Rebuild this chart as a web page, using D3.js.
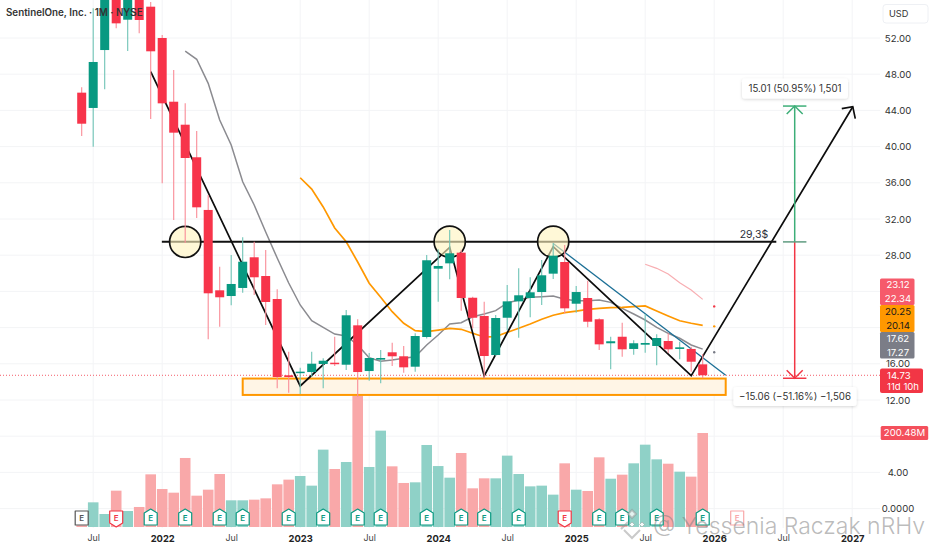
<!DOCTYPE html>
<html><head><meta charset="utf-8">
<style>
html,body{margin:0;padding:0;background:#fff;overflow:hidden}
svg{display:block;font-family:Inter,"Noto Sans",sans-serif}
</style>
<script src="https://cdn.jsdelivr.net/npm/d3@7"></script>
</head><body><svg id="c" width="932" height="550"></svg>
<script>
// Monthly bars, Jun 2021 (index 0) .. Dec 2025 (index 54)
const opens=[45.96,44.27,50.67,60,54.02,58,55.46,52,44.96,42.42,38.82,33,24.12,23.49,24.38,27.77,25.7,23.16,14.73,14.99,15.09,15.98,16.12,15.9,20.25,15.2,16.46,17.27,16.83,15.68,18.96,26.51,27.1,28.28,23.3,21.28,16.97,21.09,22.9,23.27,23.93,25.96,27.25,22.64,23.27,20.92,18.27,18.99,17.64,18.11,17.97,18.52,17.64,17.64,15.94];
const highs=[46.55,55.3,62,64,62,62,55.98,52.33,48.46,44.78,41.72,34.65,26.73,28.02,29.98,29.49,28.57,24.23,17.34,15.57,17.34,16.6,18.99,21.94,20.92,17.19,17.52,18.33,17.97,19.37,28.02,28.65,30.78,28.6,23.4,22.86,21.39,24.71,26.55,25.56,27.47,29.35,29.13,24.6,25.18,21.03,18.99,20.54,18.6,21.47,19.26,19.37,18.44,17.89,17.08];
const lows=[41.17,39.99,46.33,53.07,50.56,52.52,43.05,35.95,31.89,29.35,32.11,18.71,20.1,22.46,23.86,23.6,20.29,13.29,12.8,12.66,14.58,13.29,15.76,15.31,12.36,14.13,13.84,15.76,15.02,15.13,18.8,22.86,25.34,21.87,19.93,14.4,16.9,19.73,18.88,21.14,22.5,25.37,21.58,21.65,20.03,17.52,15.39,16.78,17,17.23,15.83,17.19,16.5,15.13,14.4];
const closes=[42.53,49.35,58,53.62,58,53.99,50.53,44.78,41.54,38.74,33.29,23.79,23.35,24.82,27.28,25.56,22.83,14.54,14.54,15.13,16.01,16.34,16.01,21.36,15.09,16.64,16.64,16.83,15.61,19.07,27.44,26.81,28.21,23.27,21.09,16.86,21.06,22.9,23.57,23.9,25.78,27.95,22.13,23.93,20.65,18.15,18.49,17.6,18.27,18.3,18.85,17.6,17.82,16.23,14.73];
const volumes=[3.5,52.6,27.7,77.5,34.1,42.7,112.3,81,73.2,147.2,66.8,79.6,113,56.9,56.9,58.3,61.1,91,101,108.8,88.2,165,123.7,138.6,280,128,205.5,129.4,93.9,95.3,174.9,130,105.2,157.8,82.5,103.8,103.8,152.2,113,86.7,88.2,69,135.8,79.6,76.8,148.6,103,111.6,135.8,175.6,144.3,135,118,107.4,200.48];
// Moving averages: first month index + values
const grayStart=9;
const grayMA=[50.56,49.65,46.99,42.94,40.18,36.12,33.55,30.56,27.69,24.93,22.5,20.76,20.03,19.29,19.07,18.08,16.67,16.28,16.42,16.61,16.78,18.08,19.18,20.4,20.54,21.2,21.5,21.87,22.72,23.05,23.35,23.41,23.49,23.13,22.97,22.97,23.05,22.79,22.13,21.5,20.84,20.03,19.37,18.82,18.08,17.62];
const orangeStart=19;
const orangeMA=[36.56,35.31,33.33,31.01,29.49,27.25,24.9,23.35,21.76,20.48,19.66,19.55,19.73,19.92,19.81,19.37,18.96,19,19.48,19.92,20.4,20.92,21.36,21.65,21.83,22.02,22.13,22.2,22.24,22.31,22.39,21.83,21.28,20.76,20.48,20.25];
const pinkStart=49;
const pinkMA=[27,26.55,25.92,24.96,24.15,23.12];
const projection=[{m:55,v:22.34,k:"red"},{m:55,v:20.14,k:"orange"},{m:55,v:17.27,k:"gray"}];
// Price axis
const priceTicks=[52,48,44,40,36,32,28,16,12,4,0];
const priceGrid=[52,48,44,40,36,32,28,24,20,16,12,8,4,0];
const lastPrice=14.73;
// Time axis
const timeTicks=[1,7,13,19,25,31,37,43,49,55,61,67];
const timeLabels=["Jul","2022","Jul","2023","Jul","2024","Jul","2025","Jul","2026","Jul","2027"];
const yearLabels=["2022","2023","2024","2025","2026","2027"];
// Earnings markers
const earningsNeutral=[0];
const earningsMiss=[3,42];
const earningsBeat=[6,9,12,14,18,21,24,26,30,33,35,38,45,47,50,54];
const earningsFuture=[57];
// Drawings
const zigzag=[[6,48.28],[19,13.55],[32,28.87],[35,14.65],[41,28.94],[53,14.7],[67.05,44.41]];
const resistance={from:6.97,to:60.4,price:29.49,label:"29,3$"};
const touches=[[9,29.47],[32,29.49],[41,29.49]];
const zone={from:14,to:56,top:14.37,bottom:12.56};
const trend=[[41,29.3],[56,14.73]];
const measure={m:62,base:29.47,up:44.48,down:14.4,upText:"15.01 (50.95%) 1,501",downText:"\u221215.06 (\u221251.16%) \u22121,506"};
const axisTags=[["23.12",284.7],["22.34",298.7],["20.25",311.7],["20.14",325.3],["17.62",339],["17.27",352.3]];

const svg=d3.select("#c");
const x=d3.scaleLinear().domain([0,54]).range([81.7,702.7]);
const y=d3.scaleLinear().domain([12,52]).range([400,38]);
const yv=d3.scaleLinear().domain([0,200.48]).range([527,433]);
const RED="#F7344A",GREEN="#089981",ORANGE="#FF9800",GRAY="#8b8b90";
const idx=d3.range(opens.length);

// grid
const grid=svg.append("g").attr("stroke","#f3f4f6").attr("stroke-width",1);
grid.selectAll(".h").data(priceGrid).join("line").attr("x1",0).attr("x2",880).attr("y1",d=>y(d)).attr("y2",d=>y(d));
grid.selectAll(".v").data(timeTicks).join("line").attr("y1",0).attr("y2",528).attr("x1",d=>x(d)).attr("x2",d=>x(d));

// volume
svg.append("g").selectAll("rect").data(idx).join("rect")
 .attr("x",i=>x(i)-5.3).attr("width",10.6)
 .attr("y",i=>yv(volumes[i])).attr("height",i=>yv(0)-yv(volumes[i]))
 .attr("fill",i=>closes[i]>=opens[i]?"#8FD1C7":"#F9A8A9");

// zone
svg.append("rect").attr("x",x(zone.from)).attr("width",x(zone.to)-x(zone.from))
 .attr("y",y(zone.top)).attr("height",y(zone.bottom)-y(zone.top))
 .attr("fill","#FFF5E6").attr("stroke",ORANGE).attr("stroke-width",2);

// last price line
svg.append("line").attr("x1",0).attr("x2",880).attr("y1",y(lastPrice)).attr("y2",y(lastPrice))
 .attr("stroke","#F23645").attr("stroke-width",1).attr("stroke-dasharray","1 2").attr("opacity",.8);

// moving averages
const ml=(start)=>d3.line().x((d,i)=>x(i+start)).y(d=>y(d));
svg.append("path").attr("d",ml(pinkStart)(pinkMA)).attr("fill","none").attr("stroke","#F8AEB2").attr("stroke-width",1.2);
svg.append("path").attr("d",ml(grayStart)(grayMA)).attr("fill","none").attr("stroke",GRAY).attr("stroke-width",1.5);
svg.append("path").attr("d",ml(orangeStart)(orangeMA)).attr("fill","none").attr("stroke",ORANGE).attr("stroke-width",1.7);
svg.append("g").selectAll("circle").data(projection).join("circle")
 .attr("cx",d=>x(d.m)).attr("cy",d=>y(d.v)).attr("r",1.2)
 .attr("fill",d=>d.k=="red"?"#F23645":d.k=="orange"?ORANGE:"#787B86");

// drawings under candles
const ln=d3.line().x(d=>x(d[0])).y(d=>y(d[1]));
svg.append("path").attr("d",ln(trend)).attr("fill","none").attr("stroke","#1B6F96").attr("stroke-width",1.3);
svg.append("path").attr("d",ln(zigzag)).attr("fill","none").attr("stroke","#0d0d0d").attr("stroke-width",1.7);
svg.append("line").attr("x1",x(resistance.from)).attr("x2",x(resistance.to)).attr("y1",y(resistance.price)).attr("y2",y(resistance.price))
 .attr("stroke","#111").attr("stroke-width",2);
svg.append("g").selectAll("circle").data(touches).join("circle")
 .attr("cx",d=>x(d[0])).attr("cy",d=>y(d[1])).attr("r",15.6)
 .attr("fill","rgba(255,243,190,.62)").attr("stroke","#111").attr("stroke-width",1.7);
// arrow head
const tip=zigzag[zigzag.length-1];
const tx=x(tip[0]),ty=y(tip[1]);
svg.append("path").attr("d",`M${tx-11},${ty+2}L${tx},${ty}L${tx+2.5},${ty+12}`).attr("fill","none").attr("stroke","#0d0d0d").attr("stroke-width",1.7);

// candles
const cg=svg.append("g");
cg.selectAll("line").data(idx).join("line")
 .attr("x1",i=>x(i)).attr("x2",i=>x(i)).attr("y1",i=>y(highs[i])).attr("y2",i=>y(lows[i]))
 .attr("stroke",i=>closes[i]>=opens[i]?"#6FC4B6":"#F98C97").attr("stroke-width",1.1);
cg.selectAll("rect").data(idx).join("rect")
 .attr("x",i=>x(i)-4.5).attr("width",9)
 .attr("y",i=>y(Math.max(opens[i],closes[i])))
 .attr("height",i=>Math.max(1.5,Math.abs(y(opens[i])-y(closes[i]))))
 .attr("fill",i=>closes[i]>=opens[i]?GREEN:RED);

// measuring tool
const mx=x(measure.m);
function cap(p,color,dir){
  svg.append("line").attr("x1",mx-11.7).attr("x2",mx+11.7).attr("y1",y(p)).attr("y2",y(p)).attr("stroke",color).attr("stroke-width",1.5);
}
const G="#3DAE78",R="#F23645";
svg.append("line").attr("x1",mx).attr("x2",mx).attr("y1",y(measure.base)).attr("y2",y(measure.down)).attr("stroke",R).attr("stroke-width",1.5);
svg.append("line").attr("x1",mx).attr("x2",mx).attr("y1",y(measure.base)).attr("y2",y(measure.up)).attr("stroke",G).attr("stroke-width",1.5);
cap(measure.up,G);cap(measure.base,"#5f9c80");cap(measure.down,R);
svg.append("path").attr("d",`M${mx-8},${y(measure.up)+8}L${mx},${y(measure.up)}L${mx+8},${y(measure.up)+8}`).attr("fill","none").attr("stroke",G).attr("stroke-width",1.5);
svg.append("path").attr("d",`M${mx-8},${y(measure.down)-8}L${mx},${y(measure.down)}L${mx+8},${y(measure.down)-8}`).attr("fill","none").attr("stroke",R).attr("stroke-width",1.5);
const defs=svg.append("defs");
const fl=defs.append("filter").attr("id","sh").attr("x","-20%").attr("y","-40%").attr("width","140%").attr("height","200%");
fl.append("feDropShadow").attr("dx",0).attr("dy",1).attr("stdDeviation",1.6).attr("flood-color","#000").attr("flood-opacity",.16);
function tag(x0,y0,w,h,t){
  svg.append("rect").attr("x",x0).attr("y",y0).attr("width",w).attr("height",h).attr("rx",3).attr("fill","#fff").attr("filter","url(#sh)");
  svg.append("text").attr("x",x0+w/2).attr("y",y0+h/2).attr("dy",".35em").attr("text-anchor","middle").attr("font-size",9.7).attr("fill","#333").text(t);
}
tag(742,78.5,106,20,measure.upText);
tag(733.5,387,123,19,measure.downText);
svg.append("text").attr("x",x(resistance.to)-8).attr("y",y(resistance.price)-4).attr("text-anchor","end").attr("font-size",10.5).attr("fill","#2a2e39").text(resistance.label);

// earnings
const eg=svg.append("g");
function ebadge(i,kind){
  const cx=x(i),color=kind=="beat"?"#089981":kind=="miss"?"#F23645":kind=="future"?"#F9A8A9":"#555";
  let d;
  if(kind=="beat") d=`M${cx-6.5},${513}L${cx},${509}L${cx+6.5},${513}L${cx+6.5},${525}L${cx-6.5},${525}Z`;
  else if(kind=="miss") d=`M${cx-6.5},${511}L${cx+6.5},${511}L${cx+6.5},${523}L${cx},${527}L${cx-6.5},${523}Z`;
  else d=`M${cx-6.5},${511}L${cx+6.5},${511}L${cx+6.5},${525}L${cx-6.5},${525}Z`;
  eg.append("path").attr("d",d).attr("fill","#fff").attr("stroke",color).attr("stroke-width",1.2).attr("stroke-linejoin","round");
  eg.append("text").attr("x",cx).attr("y",518).attr("dy",".36em").attr("text-anchor","middle").attr("font-size",8).attr("font-weight",600).attr("fill",color).text("E");
}
earningsNeutral.forEach(i=>ebadge(i,"neutral"));
earningsMiss.forEach(i=>ebadge(i,"miss"));
earningsBeat.forEach(i=>ebadge(i,"beat"));
earningsFuture.forEach(i=>ebadge(i,"future"));

// title
svg.append("text").attr("x",6).attr("y",13).attr("dy",".35em").attr("font-size",9.8).attr("font-weight",600).attr("fill","#333").text("SentinelOne, Inc. \u00b7 1M \u00b7 NYSE");

// price axis area
svg.append("rect").attr("x",880).attr("y",0).attr("width",52).attr("height",550).attr("fill","#fff");
const ya=d3.axisRight(y).tickValues(priceTicks).tickSize(0).tickFormat(d=>d===0?"0.0000":d3.format(".2f")(d));
const yg=svg.append("g").attr("transform","translate(898,0)").call(ya);
yg.select(".domain").remove();
yg.selectAll("text").attr("x",0).attr("text-anchor","middle").attr("font-family","Inter,sans-serif").attr("font-size",9.6).attr("fill","#333");
// USD box
svg.append("rect").attr("x",883).attr("y",4.5).attr("width",45).attr("height",18.5).attr("rx",3).attr("fill","#fff").attr("stroke","#eef0f4");
svg.append("text").attr("x",889).attr("y",14).attr("dy",".35em").attr("font-size",9.2).attr("fill","#333").text("USD");
// tags
const blocks=[[278.5,305,"#F65A6B"],[305,332,ORANGE],[332,358.5,"#7B7D87"]];
svg.append("g").selectAll("rect").data(blocks).join("rect").attr("x",880).attr("width",34.5).attr("y",d=>d[0]).attr("height",d=>d[1]-d[0]).attr("rx",1.5).attr("fill",d=>d[2]);
svg.append("g").selectAll("text").data(axisTags).join("text").attr("x",898).attr("y",d=>d[1]).attr("dy",".35em").attr("text-anchor","middle").attr("font-size",9.6)
 .attr("fill",(d,i)=>i==2||i==3?"#1a1a1a":"#fff").text(d=>d[0]);
svg.append("rect").attr("x",880).attr("y",368.5).attr("width",43).attr("height",24.5).attr("rx",2).attr("fill","#F23645");
svg.append("text").attr("x",887).attr("y",375.7).attr("dy",".35em").attr("font-size",9.6).attr("fill","#fff").text(d3.format(".2f")(lastPrice));
svg.append("text").attr("x",887).attr("y",386.7).attr("dy",".35em").attr("font-size",9.6).attr("fill","#fff").text("11d 10h");
svg.append("rect").attr("x",880.7).attr("y",426).attr("width",47.5).attr("height",14).attr("rx",1.5).attr("fill","#F4505C");
svg.append("text").attr("x",904.5).attr("y",433).attr("dy",".35em").attr("text-anchor","middle").attr("font-size",9.6).attr("fill","#fff").text("200.48M");

// time axis
const xa=d3.axisBottom(x).tickValues(timeTicks).tickSize(0).tickFormat((d,i)=>timeLabels[i]);
const xg=svg.append("g").attr("transform","translate(0,535)").call(xa);
xg.select(".domain").remove();
xg.selectAll("text").attr("y",0).attr("dy",".71em").attr("font-family","Inter,sans-serif")
 .attr("font-size",d=>yearLabels.includes(timeLabels[timeTicks.indexOf(d)])?9.4:8.8)
 .attr("font-weight",d=>yearLabels.includes(timeLabels[timeTicks.indexOf(d)])?700:400)
 .attr("fill",d=>yearLabels.includes(timeLabels[timeTicks.indexOf(d)])?"#222":"#444");

// watermark: logo glyph and text
const wm=svg.append("g").attr("fill","none").attr("stroke","rgba(150,150,150,.5)").attr("stroke-width",2);
wm.append("path").attr("d","M624,530L632,538L640,530M628,522L621,529");
wm.append("path").attr("d","M632,510L636,514L632,518L628,514Z").attr("fill","rgba(255,255,255,.75)");
wm.append("path").attr("d","M642,522L644.5,524.5L642,527L639.5,524.5Z").attr("fill","rgba(255,255,255,.9)").attr("stroke-width",1);
wm.append("path").attr("d","M632,522L634.5,524.5L632,527L629.5,524.5Z").attr("fill","rgba(255,255,255,.9)").attr("stroke-width",1);
svg.append("text").attr("x",653).attr("y",534).attr("font-size",23).attr("font-weight",300).attr("fill","rgba(130,130,130,.55)").text("@ Yessenia Raczak nRHv");
</script></body></html>
